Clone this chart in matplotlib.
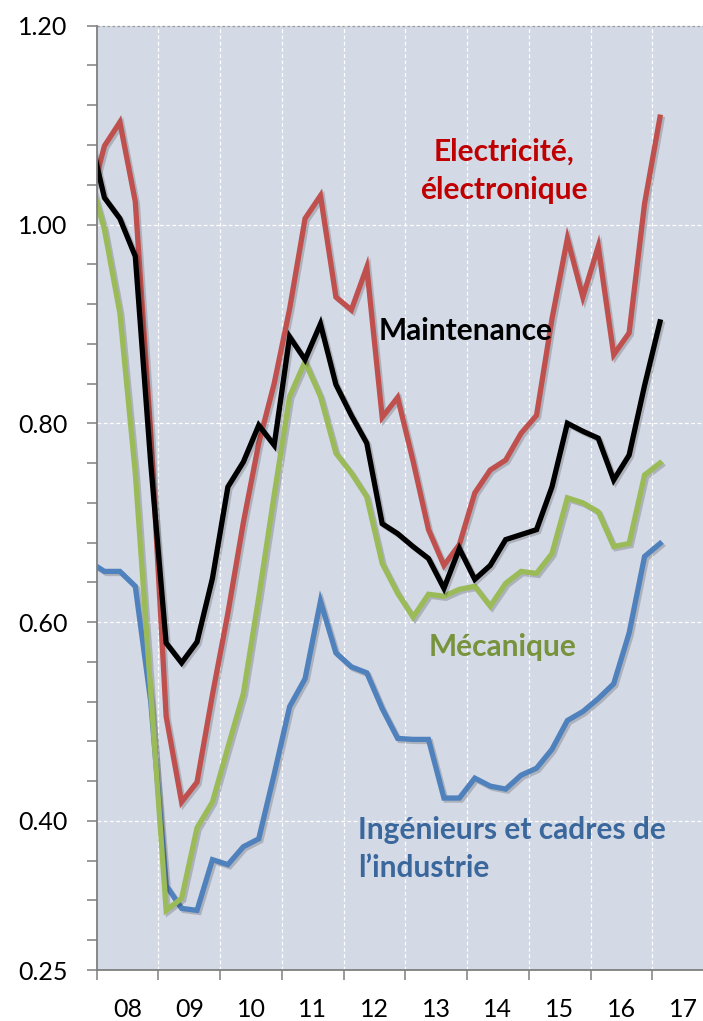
import matplotlib
matplotlib.use('Agg')
import matplotlib.pyplot as plt
import matplotlib.patheffects as pe

# ---- data (quarterly, 2007Q4 .. 2017Q1; first point lies just left of the axis) ----
quarters = ['2007Q4'] + [f'{y}Q{q}' for y in range(2008, 2017) for q in range(1, 5)] + ['2017Q1']

electricite = [1.02, 1.079, 1.103, 1.023, 0.79, 0.505, 0.419, 0.439, 0.527, 0.609,
               0.70, 0.78, 0.84, 0.915, 1.006, 1.029, 0.927, 0.914, 0.957, 0.806,
               0.826, 0.762, 0.693, 0.657, 0.678, 0.730, 0.753, 0.763, 0.790, 0.808,
               0.905, 0.986, 0.927, 0.978, 0.869, 0.891, 1.021, 1.108]
maintenance = [1.093, 1.027, 1.006, 0.968, 0.76, 0.579, 0.559, 0.580, 0.644, 0.736,
               0.761, 0.798, 0.778, 0.887, 0.864, 0.900, 0.839, 0.808, 0.780, 0.699,
               0.689, 0.676, 0.664, 0.634, 0.674, 0.643, 0.657, 0.683, 0.688, 0.693,
               0.736, 0.800, 0.792, 0.785, 0.743, 0.768, 0.838, 0.902]
mecanique = [1.05, 0.995, 0.911, 0.75, 0.53, 0.310, 0.322, 0.393, 0.419, 0.474,
             0.528, 0.625, 0.728, 0.827, 0.862, 0.827, 0.770, 0.750, 0.726, 0.659,
             0.629, 0.605, 0.628, 0.626, 0.633, 0.636, 0.616, 0.639, 0.651, 0.649,
             0.669, 0.725, 0.720, 0.711, 0.676, 0.679, 0.748, 0.760]
ingenieurs = [0.661, 0.651, 0.651, 0.636, 0.52, 0.335, 0.312, 0.310, 0.361, 0.356,
              0.374, 0.382, 0.447, 0.515, 0.543, 0.621, 0.569, 0.555, 0.549, 0.513,
              0.483, 0.482, 0.482, 0.423, 0.423, 0.443, 0.435, 0.432, 0.446, 0.453,
              0.472, 0.501, 0.510, 0.523, 0.538, 0.589, 0.666, 0.679]

year_labels = ['08', '09', '10', '11', '12', '13', '14', '15', '16', '17']
ytick_values = [round(1.20 - 0.04 * k, 2) for k in range(24)] + [0.25]
ytick_labelled = {1.20: '1.20', 1.00: '1.00', 0.80: '0.80', 0.60: '0.60', 0.40: '0.40', 0.25: '0.25'}

# ---- helpers ----
x = [int(q[:4]) + (int(q[-1]) - 0.5) / 4 for q in quarters]

plt.rcParams['font.family'] = ['Lato', 'DejaVu Sans']

fig = plt.figure(figsize=(7.03, 10.21), dpi=100)
ax = fig.add_axes([96.7 / 703, 51 / 1021, 1 - 96.7 / 703, (970 - 25.7) / 1021])
ax.set_facecolor('#D3D9E5')

x0 = 2008.0
x1 = 2008.0 + (703 - 96.7) / 61.73
ax.set_xlim(x0, x1)
ax.set_ylim(0.25, 1.20)

# grid lines
for g in [1.00, 0.80, 0.60, 0.40]:
    ax.axhline(g, color='white', lw=0.9, ls=(0, (3, 2)), zorder=1)
ax.axhline(1.20, color='#9a9a9a', lw=0.9, ls=(0, (2, 2)), zorder=1, clip_on=False)
for yr in range(2009, 2018):
    ax.axvline(yr, color='white', lw=0.9, ls=(0, (3, 2)), zorder=1)

shadow = [pe.SimpleLineShadow(offset=(1.5, -1.5), shadow_color='black', alpha=0.18), pe.Normal()]
lw = 3.8
ax.plot(x, ingenieurs, color='#4F81BD', lw=lw, zorder=3, path_effects=shadow, solid_joinstyle='miter')
ax.plot(x, mecanique, color='#9BBB59', lw=lw, zorder=4, path_effects=shadow, solid_joinstyle='miter')
ax.plot(x, electricite, color='#C0504D', lw=lw, zorder=5, path_effects=shadow, solid_joinstyle='miter')
ax.plot(x, maintenance, color='#000000', lw=lw, zorder=6, path_effects=shadow, solid_joinstyle='miter')

# spines
for s in ['top', 'right']:
    ax.spines[s].set_visible(False)
for s in ['left', 'bottom']:
    ax.spines[s].set_color('#7F7F7F')
    ax.spines[s].set_linewidth(1.3)
    ax.spines[s].set_zorder(7)

# y ticks
ax.set_yticks(ytick_values, [ytick_labelled.get(v, '') for v in ytick_values])
ax.tick_params(axis='y', direction='out', length=7.2, width=1.1, color='#7F7F7F',
               labelsize=18, pad=14, labelcolor='black')

# x ticks: major at year boundaries (no labels), minor at year centers (labels)
ax.set_xticks(list(range(2008, 2018)))
ax.set_xticklabels([])
ax.set_xticks([2008.5 + k for k in range(len(year_labels))], year_labels, minor=True)
ax.tick_params(axis='x', which='major', direction='out', length=7.2, width=1.1, color='#7F7F7F')
ax.tick_params(axis='x', which='minor', length=0, labelsize=18, pad=20, labelcolor='black')


def px(xp, yp):
    return (2008.0 + (xp - 96.7) / 61.73, 1.20 - (yp - 25.7) / 994.0)


kw = dict(fontsize=21.5, fontweight='bold', zorder=8)
ax.text(*px(504, 161), 'Electricité,', color='#C00000', ha='center', va='baseline', **kw)
ax.text(*px(504, 199), 'électronique', color='#C00000', ha='center', va='baseline', **kw)
ax.text(*px(379, 340), 'Maintenance', color='black', ha='left', va='baseline', **kw)
ax.text(*px(428.7, 656), 'Mécanique', color='#77933C', ha='left', va='baseline', **kw)
ax.text(*px(358.3, 839), 'Ingénieurs et cadres de', color='#3A679C', ha='left', va='baseline', **kw)
ax.text(*px(358.3, 877), 'l\u2019industrie', color='#3A679C', ha='left', va='baseline', **kw)

fig.savefig('out.png', dpi=100)
